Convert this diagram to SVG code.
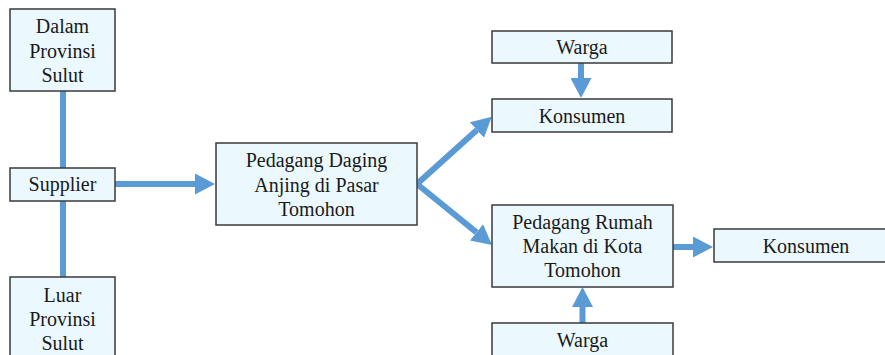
<svg xmlns="http://www.w3.org/2000/svg" width="885" height="355" viewBox="0 0 885 355">
<style>
.box{fill:#ebf9fe;stroke:#3a3a3a;stroke-width:1.5}
.t{font-family:'Liberation Serif','Times New Roman',Times,serif;font-size:20px;fill:#1a1a1a;text-anchor:middle}
.c{fill:none;stroke:#5b9bd5;stroke-width:6;stroke-linejoin:miter}
</style>
<defs>
<marker id="ah" markerUnits="userSpaceOnUse" viewBox="0 0 20 21" markerWidth="20" markerHeight="21" refX="0" refY="10.5" orient="auto-start-reverse">
<path d="M0,0 L20,10.5 L0,21 Z" fill="#5b9bd5"/>
</marker>
</defs>
<rect width="885" height="355" fill="#ffffff"/>
<g id="connectors">
<path class="c" d="M63,91 V168"/>
<path class="c" d="M63,201 V277"/>
<path class="c" d="M115,184 H195" marker-end="url(#ah)"/>
<path class="c" d="M476.9,130.1 L417,184 L476.5,232.4" marker-start="url(#ah)" marker-end="url(#ah)"/>
<path class="c" d="M581,63 V78" marker-end="url(#ah)"/>
<path class="c" d="M673,247 H693" marker-end="url(#ah)"/>
<path class="c" d="M582.5,323 V307" marker-end="url(#ah)"/>
</g>
<g id="dalam">
<rect class="box" x="10" y="9" width="105" height="82"/>
<text class="t" x="62.5" y="33">Dalam</text>
<text class="t" x="62.5" y="57.5">Provinsi</text>
<text class="t" x="62.5" y="82">Sulut</text>
</g>
<g id="supplier">
<rect class="box" x="10" y="168" width="105" height="33"/>
<text class="t" x="62.5" y="191">Supplier</text>
</g>
<g id="luar">
<rect class="box" x="10" y="277" width="105" height="90"/>
<text class="t" x="62.5" y="301.5">Luar</text>
<text class="t" x="62.5" y="325.5">Provinsi</text>
<text class="t" x="62.5" y="350">Sulut</text>
</g>
<g id="pedagang-daging">
<rect class="box" x="216" y="143" width="201" height="82"/>
<text class="t" x="316.5" y="167">Pedagang Daging</text>
<text class="t" x="316.5" y="191.5">Anjing di Pasar</text>
<text class="t" x="316.5" y="216">Tomohon</text>
</g>
<g id="warga-atas">
<rect class="box" x="492" y="31" width="180" height="32"/>
<text class="t" x="582" y="54">Warga</text>
</g>
<g id="konsumen-atas">
<rect class="box" x="492" y="99" width="180" height="33"/>
<text class="t" x="582" y="123">Konsumen</text>
</g>
<g id="pedagang-rumah">
<rect class="box" x="492" y="205" width="181" height="82"/>
<text class="t" x="582.5" y="228.5">Pedagang Rumah</text>
<text class="t" x="582.5" y="253">Makan di Kota</text>
<text class="t" x="582.5" y="277">Tomohon</text>
</g>
<g id="konsumen-kanan">
<rect class="box" x="714" y="229" width="184" height="33"/>
<text class="t" x="806" y="253">Konsumen</text>
</g>
<g id="warga-bawah">
<rect class="box" x="492" y="323" width="181" height="40"/>
<text class="t" x="582.5" y="347">Warga</text>
</g>
</svg>
